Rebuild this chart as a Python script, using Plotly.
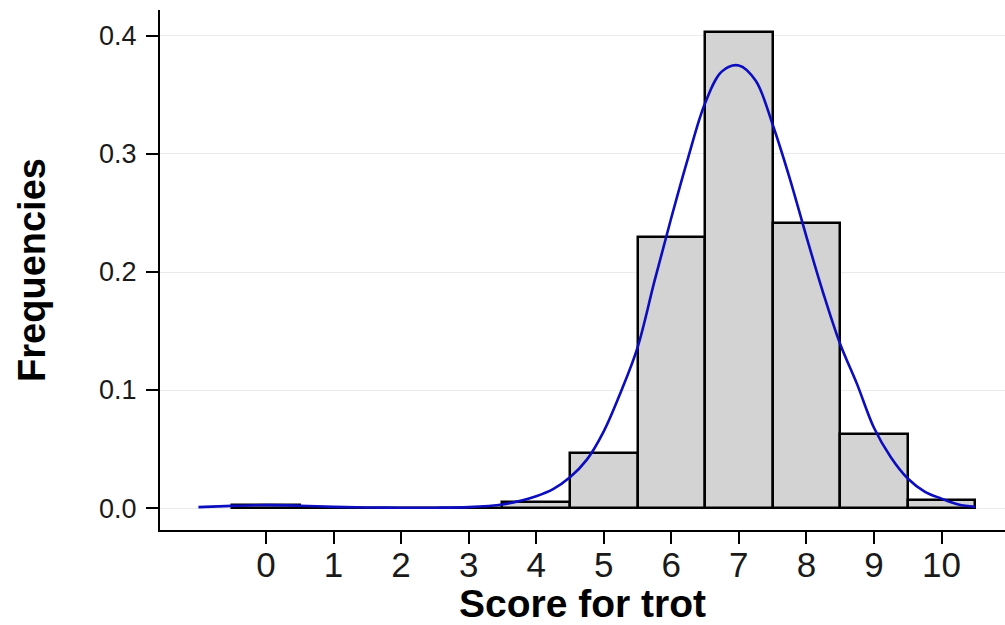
import plotly.graph_objects as go

# Histogram data (relative frequencies per score)
scores = [0, 1, 2, 3, 4, 5, 6, 7, 8, 9, 10]
freqs = [0.003, 0.0, 0.0, 0.0, 0.005, 0.047, 0.230, 0.403, 0.2415, 0.063, 0.0065]

# Density curve
curve_x = [-1, -0.5, 0, 0.5, 1, 1.5, 2, 2.5, 3, 3.5, 3.75, 4.0, 4.25, 4.5, 4.75, 5.0,
           5.25, 5.5, 5.75, 6.0, 6.25, 6.5, 6.75, 7.0, 7.25, 7.5, 7.75, 8.0, 8.25,
           8.5, 8.75, 9.0, 9.25, 9.5, 9.75, 10.0, 10.25, 10.5]
curve_y = [0.0008, 0.0018, 0.0025, 0.002, 0.001, 0.0005, 0.0003, 0.0003, 0.0008, 0.003,
           0.006, 0.010, 0.016, 0.026, 0.041, 0.065, 0.098, 0.136, 0.192, 0.246,
           0.297, 0.343, 0.370, 0.375, 0.362, 0.325, 0.280, 0.230, 0.182, 0.139,
           0.105, 0.068, 0.043, 0.025, 0.014, 0.008, 0.003, 0.001]

y_ticks = [0.0, 0.1, 0.2, 0.3, 0.4]
y_tick_labels = ["0.0", "0.1", "0.2", "0.3", "0.4"]

fig = go.Figure()
fig.add_trace(go.Bar(
    x=scores, y=freqs, width=1,
    marker=dict(color="#d3d3d3", line=dict(color="black", width=2.5)),
    showlegend=False,
))
fig.add_trace(go.Scatter(
    x=curve_x, y=curve_y, mode="lines",
    line=dict(color="#0c0cc0", width=2.6, shape="spline", smoothing=1.0),
    showlegend=False,
))

fig.update_layout(
    width=1005, height=625,
    margin=dict(l=160, r=0, t=10, b=95),
    paper_bgcolor="white", plot_bgcolor="white",
    bargap=0,
    font=dict(family="Liberation Sans, Arial, sans-serif", color="#1a1a1a"),
    xaxis=dict(
        range=[-1.569, 10.94],
        tickmode="array", tickvals=scores, ticktext=[str(s) for s in scores],
        tickfont=dict(size=35, color="#1a1a1a"),
        ticks="outside", ticklen=12, tickwidth=2, tickcolor="black",
        ticklabelstandoff=-9,
        showline=True, linecolor="black", linewidth=2,
        showgrid=False, zeroline=False,
        title=dict(text="<b>Score for trot</b>", font=dict(size=39, color="black"), standoff=0),
    ),
    yaxis=dict(
        range=[-0.0186, 0.422],
        tickmode="array", tickvals=y_ticks, ticktext=y_tick_labels,
        tickfont=dict(size=27, color="#1a1a1a"),
        ticks="outside", ticklen=12, tickwidth=2, tickcolor="black",
        ticklabelstandoff=4,
        showline=True, linecolor="black", linewidth=2,
        showgrid=True, gridcolor="#ebebeb", gridwidth=1,
        zeroline=False,
        title=dict(text="<b>Frequencies</b>", font=dict(size=38, color="black"), standoff=42),
    ),
)

fig.write_html("out.html")
